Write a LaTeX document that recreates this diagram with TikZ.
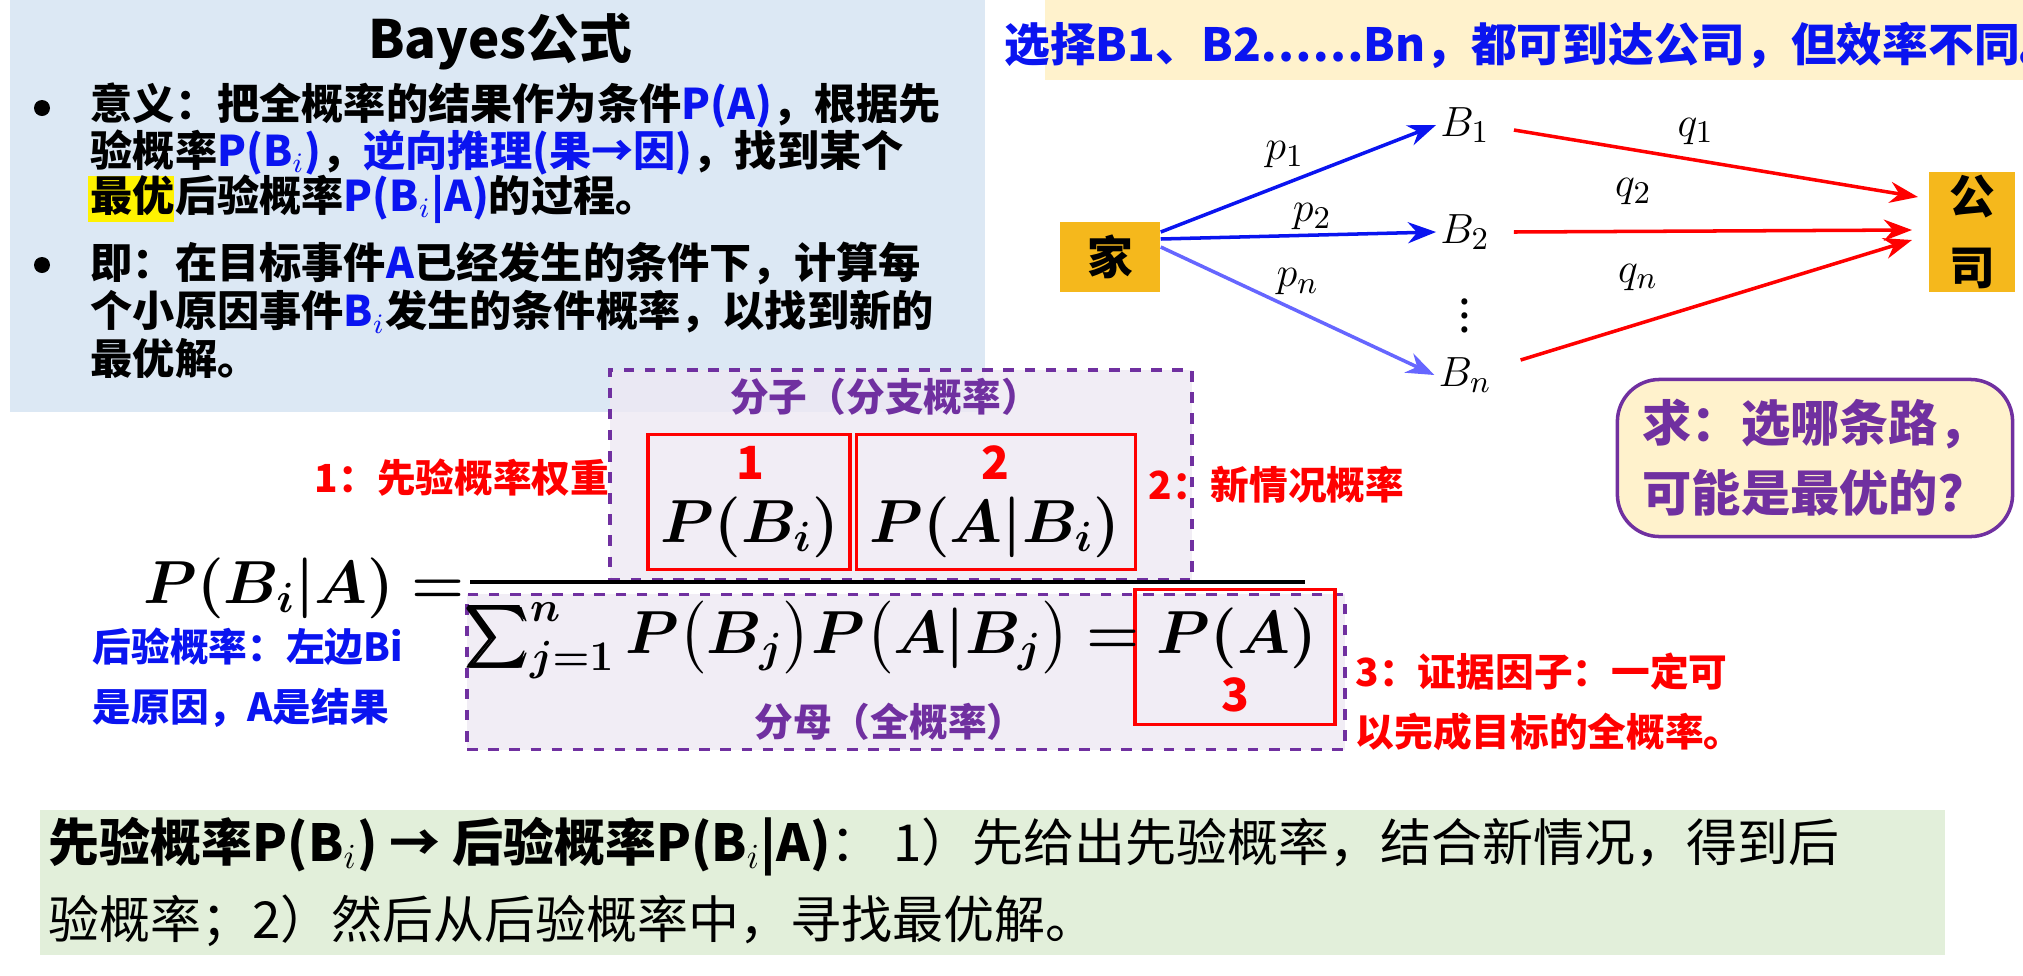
\documentclass[tikz,border=0pt]{standalone}
\usepackage{amsmath,bm}
\usepackage{fontspec}
\setmainfont{Noto Sans CJK SC}
\usetikzlibrary{arrows.meta,positioning}
\definecolor{bluebg}{HTML}{DCE8F4}
\definecolor{yelbg}{HTML}{FFF2CC}
\definecolor{orng}{HTML}{F5B81C}
\definecolor{purp}{HTML}{7030A0}
\definecolor{lpurp}{HTML}{EEE8F3}
\definecolor{grnbg}{HTML}{E2EFDA}
\definecolor{bblue}{HTML}{0A14F0}
\tikzset{
  txt/.style={font=\fontsize{12}{14}\selectfont\bfseries, inner sep=0pt},
  lbl/.style={font=\fontsize{11}{14}\selectfont\bfseries, inner sep=0pt},
  redtxt/.style={lbl, text=red, align=left, anchor=west},
  redbox/.style={draw=red, line width=1pt},
  dashbox/.style={draw=purp, dashed, line width=1pt, fill=lpurp, fill opacity=0.8},
  bnode/.style={font=\fontsize{13}{14}\selectfont, inner sep=1pt},
  parr/.style={-{Stealth[length=8pt]}, line width=1pt}
}
\begin{document}
\begin{tikzpicture}[x=0.01cm,y=-0.01cm]
\useasboundingbox (0,0) rectangle (2023,975);
% left blue panel
\fill[bluebg] (10,0) rectangle (985,412);
\node[txt, font=\fontsize{15}{16}\selectfont\bfseries] (title) at (500,42) {Bayes公式};
\fill (42,108) circle (8);
\fill (42,265) circle (8);
\node[txt, anchor=west] (l1) at (90,105) {意义：把全概率的结果作为条件\textcolor{bblue}{\textit{P(A)}}，根据先};
\node[txt, anchor=west] (l2) at (90,152) {验概率\textcolor{bblue}{\textit{P(B$_i$)}}，\textcolor{bblue}{逆向推理(果→因)}，找到某个};
\fill[yellow] (88,176) rectangle (174,222);
\node[txt, anchor=west] (l3) at (90,199) {最优后验概率\textcolor{bblue}{\textit{P(B$_i$|A)}}的过程。};
\node[txt, anchor=west] (l4) at (90,264) {即：在目标事件\textcolor{bblue}{\textit{A}}已经发生的条件下，计算每};
\node[txt, anchor=west] (l5) at (90,312) {个小原因事件\textcolor{bblue}{\textit{B$_i$}}发生的条件概率，以找到新的};
\node[txt, anchor=west] (l6) at (90,359) {最优解。};
% top right
\fill[yelbg] (1045,0) rectangle (2023,80);
\node[txt, text=bblue, font=\fontsize{13}{14}\selectfont\bfseries\itshape] (ban) at (1535,45) {选择B1、B2……Bn，都可到达公司，但效率不同。};
\node[fill=orng, minimum width=1cm, minimum height=0.7cm, txt, font=\fontsize{13}{14}\selectfont\bfseries] (home) at (1110,257) {家};
\node[fill=orng, minimum width=0.85cm, minimum height=1.2cm, txt, font=\fontsize{13}{16}\selectfont\bfseries, align=center] (comp) at (1972,232) {公\\[4pt]司};
\node[bnode] (B1) at (1465,125) {$B_1$};
\node[bnode] (B2) at (1465,232) {$B_2$};
\node[bnode] (Bn) at (1465,375) {$B_n$};
\node[bnode] (dots) at (1465,305) {$\vdots$};
\draw[parr, bblue] (home.east) ++(0,-25) -- (B1.west) node[pos=0.45, above=3pt, bnode, text=black] {$p_1$};
\draw[parr, bblue] (home.east) ++(0,-18) -- (B2.west) node[pos=0.55, above, bnode, text=black] {$p_2$};
\draw[parr, blue!60] (home.east) ++(0,-10) -- (Bn.west) node[pos=0.5, above=3pt, bnode, text=black] {$p_n$};
\draw[parr, red] (B1.east) ++(20,5) -- (1918,197) node[pos=0.45, above=3pt, bnode, text=black] {$q_1$};
\draw[parr, red] (B2.east) ++(20,0) -- (1912,230) node[pos=0.3, above=6pt, bnode, text=black] {$q_2$};
\draw[parr, red] (Bn.east) ++(25,-15) -- (1912,240) node[pos=0.3, above=8pt, bnode, text=black] {$q_n$};
\node[draw=purp, line width=1pt, fill=yelbg, rounded corners=12, minimum width=3.95cm, minimum height=1.57cm, txt, text=purp, font=\fontsize{14}{20}\selectfont\bfseries, align=left] (ask) at (1815,458) {求：选哪条路，\\可能是最优的？};
% formula
\node[dashbox, minimum width=5.82cm, minimum height=2.1cm] (num) at (901,475) {};
\node[dashbox, minimum width=8.77cm, minimum height=1.55cm] (den) at (906,672) {};
\node[lbl, text=purp] (fz) at (885,397) {分子（分支概率）};
\node[lbl, text=purp] (fm) at (890,722) {分母（全概率）};
\node[redbox, minimum width=2.02cm, minimum height=1.35cm] (r1) at (749,502) {};
\node[redbox, minimum width=2.79cm, minimum height=1.35cm] (r2) at (996,502) {};
\node[redbox, minimum width=2cm, minimum height=1.35cm] (r3) at (1235,657) {};
\node[txt, text=red, font=\fontsize{13}{14}\selectfont\bfseries] (n1) at (750,463) {1};
\node[txt, text=red, font=\fontsize{13}{14}\selectfont\bfseries] (n2) at (995,463) {2};
\node[txt, text=red, font=\fontsize{13}{14}\selectfont\bfseries] (n3) at (1235,695) {3};
\node[inner sep=0pt, font=\fontsize{16.5}{20}\selectfont] (pbi) at (750,527) {$\bm{P(B_i)}$};
\node[inner sep=0pt, font=\fontsize{16.5}{20}\selectfont] (pab) at (995,527) {$\bm{P(A|B_i)}$};
\node[inner sep=0pt, font=\fontsize{17}{20}\selectfont, anchor=east] (lhs) at (465,588) {$\bm{P(B_i|A)=}$};
\draw[line width=1.2pt] (470,582) -- (1305,582);
\node[inner sep=0pt, font=\fontsize{16.5}{20}\selectfont] (denf) at (890,640) {$\bm{\sum_{j=1}^{n}P\big(B_j\big)P\big(A|B_j\big)=P(A)}$};
\node[redtxt, anchor=east] (c1) at (610,478) {1：先验概率权重};
\node[redtxt] (c2) at (1148,485) {2：新情况概率};
\node[redtxt] (c3) at (1355,702) {3：证据因子：一定可\\[3pt]以完成目标的全概率。};
\node[lbl, text=bblue, align=left, anchor=west] (post) at (92,678) {后验概率：左边Bi\\[3pt]是原因，A是结果};
% bottom
\fill[grnbg] (40,810) rectangle (1945,955);
\node[txt, anchor=west, font=\fontsize{14.5}{22}\selectfont, align=left] (bot) at (48,882) {\textbf{\textit{先验概率P(B$_i$) → 后验概率P(B$_i$|A)}}：\ 1）先给出先验概率，结合新情况，得到后\\验概率；2）然后从后验概率中，寻找最优解。};
\end{tikzpicture}
\end{document}
